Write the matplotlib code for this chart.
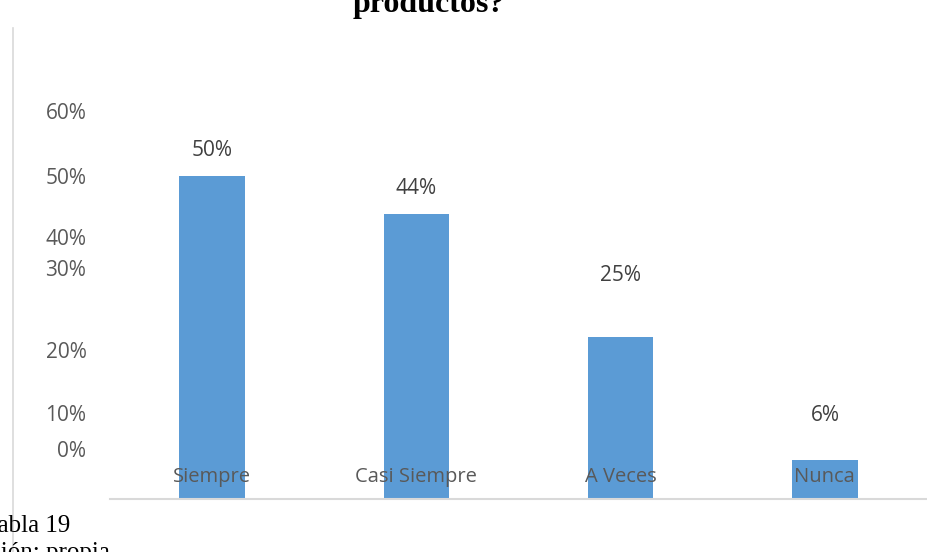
import matplotlib
matplotlib.use("Agg")
import matplotlib.pyplot as plt
from matplotlib.lines import Line2D

# Data
categories = ["Siempre", "Casi Siempre", "A Veces", "Nunca"]
values = [50, 44, 25, 6]
value_labels = ["50%", "44%", "25%", "6%"]

# y tick labels as they appear (positions are shifted in the source picture)
ytick_labels = ["0%", "10%", "20%", "30%", "40%", "50%", "60%"]
ytick_pos = [7.7, 13.3, 23.0, 35.7, 40.5, 50.0, 60.0]

# offset (px) of each value label above its bar
label_offsets_px = [25, 26, 62, 45]

W, H = 927, 552
fig = plt.figure(figsize=(W / 100, H / 100), dpi=100)
ax = fig.add_axes([110 / W, (H - 499) / H, (W - 110) / W, (499 - 111) / H])

bar_color = "#5b9bd5"
xs = list(range(len(categories)))
bars = ax.bar(xs, values, width=0.32, color=bar_color, zorder=1)

ax.set_xlim(-0.5, 3.5)
ax.set_ylim(0, 60)

# y axis
ax.set_yticks(ytick_pos)
ax.set_yticklabels(ytick_labels, fontfamily="Open Sans", fontsize=15, color="#595959")
ax.tick_params(axis="y", length=0, pad=17)

# x axis: labels drawn inside the bars
ax.set_xticks(xs)
ax.set_xticklabels(categories, fontfamily="Open Sans", fontsize=14.5, color="#595959")
ax.tick_params(axis="x", length=0, pad=-23)

for side in ["left", "right", "top"]:
    ax.spines[side].set_visible(False)
ax.spines["bottom"].set_color("#d9d9d9")
ax.spines["bottom"].set_linewidth(1.5)

# value labels
for x, v, lab, off in zip(xs, values, value_labels, label_offsets_px):
    ax.annotate(lab, (x, v), xytext=(0, off * 0.72), textcoords="offset points",
                ha="center", va="center", fontfamily="Open Sans", fontsize=15,
                color="#404040")

# chart border line on the left
fig.add_artist(Line2D([13 / W, 13 / W], [0, 1 - 28 / H], transform=fig.transFigure,
                      color="#d9d9d9", linewidth=1.2))

# clipped title and document text
fig.text(429 / W, 1 - 12 / H, "productos?", ha="center", va="baseline",
         fontfamily="Liberation Serif", fontweight="bold", fontsize=23, color="black")
fig.text(70 / W, 1 - 532 / H, "Tabla 19", ha="right", va="baseline",
         fontfamily="Liberation Serif", fontsize=18, color="black")
fig.text(110 / W, 1 - 559 / H, "Elaboración: propia", ha="right", va="baseline",
         fontfamily="Liberation Serif", fontsize=18, color="black")

fig.savefig("out.png", dpi=100)
